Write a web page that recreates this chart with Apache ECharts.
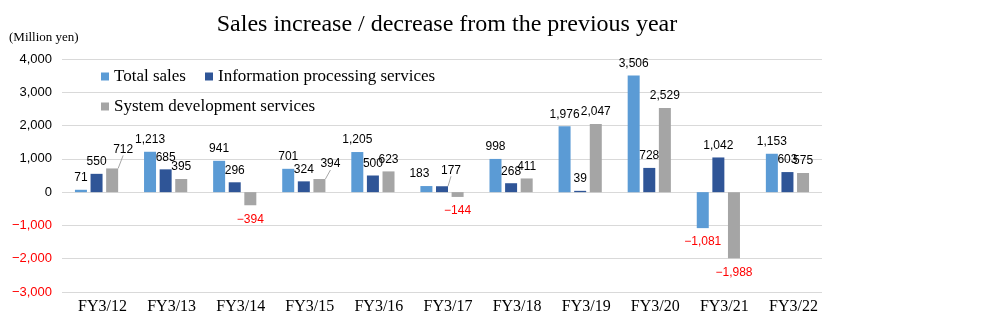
<!DOCTYPE html>
<html><head><meta charset="utf-8">
<script src="https://cdn.jsdelivr.net/npm/echarts@6/dist/echarts.min.js"></script>
<style>html,body{margin:0;padding:0;background:#fff}#c{width:1000px;height:329px}</style>
</head><body><div id="c"></div>
<script>
const categories = ['FY3/12','FY3/13','FY3/14','FY3/15','FY3/16','FY3/17','FY3/18','FY3/19','FY3/20','FY3/21','FY3/22'];
const totalSales = [71, 1213, 941, 701, 1205, 183, 998, 1976, 3506, -1081, 1153];
const infoProcessing = [550, 685, 296, 324, 500, 177, 268, 39, 728, 1042, 603];
const systemDev = [712, 395, -394, 394, 623, -144, 411, 2047, 2529, -1988, 575];
const seriesNames = ['Total sales', 'Information processing services', 'System development services'];
const colors = ['#5B9BD5', '#2F5597', '#A5A5A5'];

// label nudges (styling only): series index -> {dataIndex: [dx, dy]}
const labelNudges = {
  0: {5: [-7, 0]},
  1: {5: [9, -4]},
  2: {0: [11, -7], 3: [11, -3]}
};
const leaderLines = {1: [5], 2: [0, 3]};

function fmt(v){
  const s = Math.abs(v).toLocaleString('en-US');
  return v < 0 ? '\u2212' + s : s;
}
const sansFont = '"Liberation Sans", Arial, sans-serif';
const serifFont = '"Liberation Serif", "Times New Roman", serif';

function buildData(arr, si){
  return arr.map((v, di) => {
    const item = {
      value: v,
      label: v < 0 ? {position: 'bottom', color: '#FF0000', distance: 8} : {}
    };
    if ((leaderLines[si] || []).includes(di)) {
      item.labelLine = {show: true, lineStyle: {color: '#A6A6A6', width: 1}};
    }
    return item;
  });
}

const chart = echarts.init(document.getElementById('c'));
const option = {
  animation: false,
  title: {
    text: 'Sales increase / decrease from the previous year',
    left: 442, textAlign: 'center', top: 8,
    textStyle: {fontFamily: serifFont, fontSize: 24, fontWeight: 'normal', color: '#000'}
  },
  graphic: [{
    type: 'text', left: 9, top: 31,
    style: {text: '(Million yen)', font: '13px ' + serifFont, fill: '#000'}
  }],
  legend: [{
    data: seriesNames.slice(0, 2), left: 96, top: 63, itemWidth: 8, itemHeight: 8, itemGap: 19,
    icon: 'rect', textStyle: {fontFamily: serifFont, fontSize: 17, color: '#000'}
  }, {
    data: seriesNames.slice(2), left: 96, top: 93, itemWidth: 8, itemHeight: 8,
    icon: 'rect', textStyle: {fontFamily: serifFont, fontSize: 17, color: '#000'}
  }],
  grid: {left: 62, right: 178, top: 59, bottom: 37, containLabel: false},
  xAxis: {
    type: 'category', data: categories,
    axisLine: {show: false}, axisTick: {show: false},
    axisLabel: {fontFamily: serifFont, fontSize: 16, color: '#000', margin: 7, padding: [0, 0, 0, 12]}
  },
  yAxis: {
    type: 'value', min: -3000, max: 4000, interval: 1000,
    axisLine: {show: false}, axisTick: {show: false},
    splitLine: {lineStyle: {color: '#D9D9D9', width: 1}},
    axisLabel: {
      fontFamily: sansFont, fontSize: 13, margin: 10,
      formatter: v => fmt(v),
      color: v => (v < 0 ? '#FF0000' : '#000')
    }
  },
  series: [totalSales, infoProcessing, systemDev].map((arr, i) => ({
    name: seriesNames[i], type: 'bar', data: buildData(arr, i),
    barWidth: 12, barGap: '30%', barCategoryGap: '37%',
    itemStyle: {color: colors[i]},
    label: {show: true, position: 'top', distance: 6, formatter: p => fmt(p.value),
      fontFamily: sansFont, fontSize: 12, color: '#000'},
    labelLayout: function (p) {
      const n = (labelNudges[i] || {})[p.dataIndex];
      return n ? {dx: n[0], dy: n[1]} : {};
    }
  }))
};
chart.setOption(option);
</script></body></html>
